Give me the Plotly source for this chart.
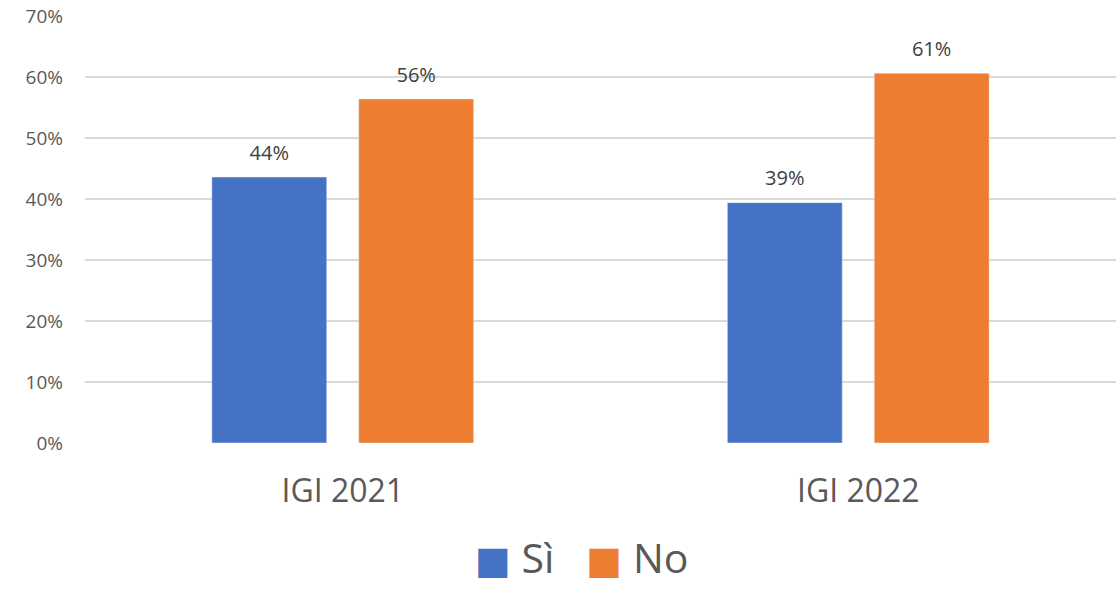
import plotly.graph_objects as go

categories = ["IGI 2021", "IGI 2022"]
series_names = ["Sì", "No"]
si_values = [0.436, 0.394]
no_values = [0.564, 0.606]
series_values = [si_values, no_values]
colors = ["#4472C4", "#ED7D31"]
y_ticks = [0, 0.1, 0.2, 0.3, 0.4, 0.5, 0.6, 0.7]

FONT = "Open Sans, Noto Sans, DejaVu Sans, sans-serif"
TXT = "#595959"

fig = go.Figure()
for i, (name, vals, col) in enumerate(zip(series_names, series_values, colors)):
    fig.add_trace(go.Bar(
        x=categories, y=vals, name=name, marker_color=col,
        offsetgroup=str(i), showlegend=False, hoverinfo="skip",
    ))
for i, (name, vals) in enumerate(zip(series_names, series_values)):
    fig.add_trace(go.Scatter(
        x=categories, y=vals, mode="markers+text",
        marker=dict(size=18, color="rgba(0,0,0,0)"),
        text=[f"{round(v * 100)}%" for v in vals],
        textposition="top center",
        textfont=dict(size=20, color="#404040", family=FONT),
        offsetgroup=str(i), showlegend=False, hoverinfo="skip",
    ))

legend_html = "   ".join(
    f"<span style='color:{c};font-size:38px'>■</span> {n}" for n, c in zip(series_names, colors)
)
fig.add_annotation(
    text=legend_html, xref="paper", yref="paper", x=0.482, y=-0.266,
    xanchor="center", yanchor="middle", showarrow=False,
    font=dict(size=41, color=TXT, family=FONT),
)

fig.update_layout(
    width=1118, height=589,
    margin=dict(l=85, r=2, t=16, b=146, autoexpand=False),
    paper_bgcolor="white", plot_bgcolor="white",
    barmode="group", bargap=0.43, bargroupgap=0.218,
    scattermode="group", scattergap=0.43,
    font=dict(family=FONT, color=TXT),
    xaxis=dict(showgrid=False, showline=False, zeroline=False, automargin=False,
               tickfont=dict(size=32, color=TXT), ticklabelstandoff=26),
    yaxis=dict(range=[0, 0.7], tickvals=y_ticks, tickformat=".0%",
               showgrid=True, gridcolor="#D9D9D9", gridwidth=1.5,
               zeroline=False, showline=False, automargin=False,
               tickfont=dict(size=19, color=TXT), ticklabelstandoff=21),
)

fig.write_html("out.html", config={"displayModeBar": False},
               post_script="document.body.style.margin='0';document.body.style.overflow='hidden';")
